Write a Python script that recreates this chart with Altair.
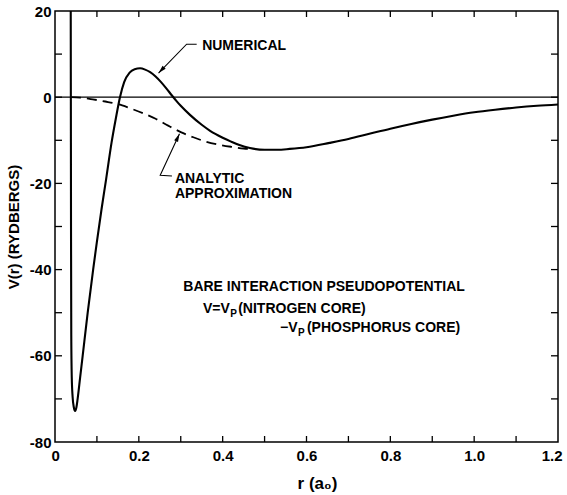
import altair as alt
import pandas as pd

# ---- data ----
num_r = [0.0374, 0.0378, 0.0382, 0.0388, 0.040, 0.042, 0.045, 0.048, 0.051, 0.054,
         0.060, 0.066, 0.078, 0.091, 0.100, 0.111, 0.122, 0.135, 0.145, 0.155,
         0.165, 0.178, 0.190, 0.203, 0.215, 0.227, 0.240, 0.253, 0.266, 0.279,
         0.290, 0.300, 0.322, 0.350, 0.370, 0.400, 0.420, 0.440, 0.465, 0.500,
         0.530, 0.560, 0.600, 0.655, 0.700, 0.750, 0.800, 0.850, 0.900, 0.950,
         1.000, 1.050, 1.100, 1.150, 1.200]
num_v = [30, 0, -30, -55, -65, -69.5, -72, -72.8, -72, -70,
         -65, -60, -50, -40, -33.5, -26, -19, -10.5, -5, 0,
         3.5, 5.7, 6.5, 6.7, 6.4, 5.8, 4.8, 3.5, 2.0, 0.4,
         -0.9, -2.0, -4.1, -6.4, -7.8, -9.4, -10.3, -11.1, -11.8, -12.2,
         -12.2, -12.0, -11.6, -10.6, -9.7, -8.5, -7.3, -6.2, -5.2, -4.3,
         -3.5, -2.9, -2.4, -2.0, -1.7]

ana_r = [0.038, 0.06, 0.09, 0.12, 0.15, 0.18, 0.21, 0.24, 0.27, 0.30,
         0.33, 0.36, 0.39, 0.42, 0.45, 0.47]
ana_v = [0, -0.1, -0.5, -1.0, -1.6, -2.6, -3.7, -5.0, -6.6, -8.1,
         -9.3, -10.3, -11.0, -11.5, -11.9, -12.0]

x_label_vals = [0, 0.2, 0.4, 0.6, 0.8, 1.0, 1.2]
y_label_vals = [-80, -60, -40, -20, 0, 20]
x_tick_vals = [0.1, 0.2, 0.3, 0.4, 0.5, 0.6, 0.7, 0.8, 0.9, 1.0, 1.1]
y_tick_vals = [-70, -60, -50, -40, -30, -20, -10, 0, 10]

# annotation texts (data coordinates)
txt_labels = ["NUMERICAL", "ANALYTIC", "APPROXIMATION",
              "BARE INTERACTION PSEUDOPOTENTIAL",
              "V=V", "(NITROGEN CORE)", "\u2212V", "(PHOSPHORUS CORE)"]
txt_r = [0.351, 0.286, 0.286, 0.306, 0.353, 0.437, 0.537, 0.601]
txt_v = [11.8, -18.9, -22.4, -44.1, -49.2, -49.2, -53.6, -53.6]

sub_labels = ["P", "P"]
sub_r = [0.418, 0.580]
sub_v = [-49.2, -53.6]

# arrows: leader lines
arr_id = ["num", "num", "num", "ana", "ana", "ana"]
arr_ord = [0, 1, 2, 0, 1, 2]
arr_r = [0.338, 0.314, 0.247, 0.279, 0.251, 0.297]
arr_v = [12.3, 12.3, 5.6, -18.3, -18.1, -8.5]

W, H = 503, 431
FONT = "Liberation Sans, DejaVu Sans"

xs = alt.Scale(domain=[0, 1.2], nice=False, zero=False)
ys = alt.Scale(domain=[-80, 20], nice=False, zero=False)

x_axis = alt.Axis(values=x_label_vals, title="r (a\u2080)",
                  labelExpr="datum.value == 0 ? '0' : format(datum.value, '.1f')",
                  ticks=False, domain=False, grid=False,
                  labelFlush=True, labelFlushOffset=4,
                  labelPadding=6, titlePadding=12, titleFontSize=17,
                  titleX=262, titleAnchor="middle")
y_axis = alt.Axis(values=y_label_vals, title="V(r) (RYDBERGS)",
                  labelExpr="'' + datum.value",
                  ticks=False, domain=False, grid=False, labelFlush=False,
                  labelPadding=4, titlePadding=8, titleFontSize=15)


def X(field="r"):
    return alt.X(f"{field}:Q", scale=xs, axis=x_axis)


def Y(field="v"):
    return alt.Y(f"{field}:Q", scale=ys, axis=y_axis)


num_df = pd.DataFrame({"r": num_r, "v": num_v})
ana_df = pd.DataFrame({"r": ana_r, "v": ana_v})

zero_line = alt.Chart(pd.DataFrame({"r": [0, 1.2], "v": [0, 0]})).mark_line(
    color="black", strokeWidth=1.2).encode(x=X(), y=Y())

numerical = alt.Chart(num_df).mark_line(
    color="black", strokeWidth=2.1, clip=True, interpolate="monotone").encode(
    x=X(), y=Y())

analytic = alt.Chart(ana_df).mark_line(
    color="black", strokeWidth=1.8, strokeDash=[10, 6], interpolate="monotone").encode(
    x=X(), y=Y())

# inward ticks on all four sides
xt = pd.DataFrame({"r": x_tick_vals})
yt = pd.DataFrame({"v": y_tick_vals})
tick_style = dict(color="black", strokeWidth=1.3)
t_bottom = alt.Chart(xt).mark_rule(**tick_style).encode(
    x=X(), y=alt.value(H), y2=alt.value(H - 6))
t_top = alt.Chart(xt).mark_rule(**tick_style).encode(
    x=X(), y=alt.value(0), y2=alt.value(6))
t_left = alt.Chart(yt).mark_rule(**tick_style).encode(
    y=Y(), x=alt.value(0), x2=alt.value(7))
t_right = alt.Chart(yt).mark_rule(**tick_style).encode(
    y=Y(), x=alt.value(W), x2=alt.value(W - 7))

texts = alt.Chart(pd.DataFrame({"r": txt_r, "v": txt_v, "t": txt_labels})).mark_text(
    align="left", baseline="middle", font=FONT, fontSize=14, fontWeight="bold",
    color="black").encode(x=X(), y=Y(), text="t:N")

subs = alt.Chart(pd.DataFrame({"r": sub_r, "v": sub_v, "t": sub_labels})).mark_text(
    align="left", baseline="middle", font=FONT, fontSize=10, fontWeight="bold",
    dy=5, color="black").encode(x=X(), y=Y(), text="t:N")

arrows = alt.Chart(pd.DataFrame({"id": arr_id, "o": arr_ord, "r": arr_r, "v": arr_v})).mark_line(
    color="black", strokeWidth=1.1).encode(
    x=X(), y=Y(), detail="id:N", order="o:Q")

head_path = "M0,0L-0.45,1.7L0.45,1.7Z"
head_num = alt.Chart(pd.DataFrame({"r": [arr_r[2]], "v": [arr_v[2]]})).mark_point(
    shape=head_path, filled=True, color="black", size=90, angle=224, opacity=1).encode(
    x=X(), y=Y())
head_ana = alt.Chart(pd.DataFrame({"r": [arr_r[5]], "v": [arr_v[5]]})).mark_point(
    shape=head_path, filled=True, color="black", size=90, angle=25, opacity=1).encode(
    x=X(), y=Y())

chart = alt.layer(
    zero_line, numerical, analytic, t_bottom, t_top, t_left, t_right,
    arrows, head_num, head_ana, texts, subs
).properties(
    width=W, height=H,
    autosize=alt.AutoSizeParams(type="none"),
    padding={"left": 55, "top": 11, "right": 9, "bottom": 53},
    background="white",
).configure_view(
    stroke="black", strokeWidth=1.5
).configure_axis(
    labelFont=FONT, titleFont=FONT, labelFontSize=15, labelColor="black",
    labelFontWeight="bold", titleColor="black", titleFontWeight="bold"
)

chart.save("out.html", embed_options={"renderer": "svg", "actions": False})
